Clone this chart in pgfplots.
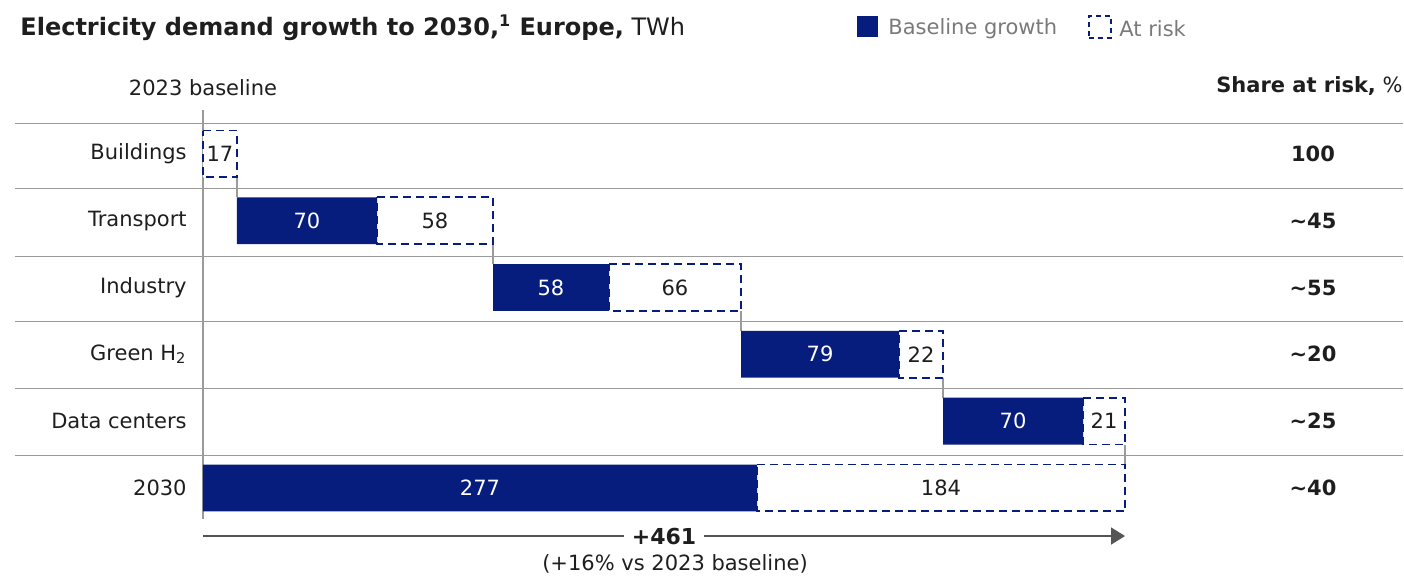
\documentclass[border=0pt]{standalone}
\usepackage{fontspec}
\setmainfont{DejaVu Sans}
\usepackage{pgfplots}
\pgfplotsset{compat=1.18}
\usetikzlibrary{arrows.meta}

\definecolor{navy}{HTML}{061D7E}
\definecolor{sepgray}{HTML}{9A9A9A}
\definecolor{txt}{HTML}{1E1E1E}
\definecolor{leggray}{HTML}{7A7A7A}
\definecolor{arrowgray}{HTML}{555555}

% both axes share the same box so that they line up
\pgfplotsset{commonaxis/.style={
    scale only axis, width=600pt, height=212.1pt,
    at={(101.5pt,23.5pt)}, anchor=south west,
    xmin=0, xmax=600, ymin=-0.75, ymax=5.6, y dir=reverse,
    clip=false}}

\begin{document}
\begin{tikzpicture}[font=\fontsize{10.5}{12}\selectfont, text=txt]
\path[use as bounding box] (0,0) rectangle (702pt,287.5pt);

% lines: separators, base line, connectors, total arrow
\begin{axis}[commonaxis, hide axis]
    \addplot[sepgray, line width=0.6pt] coordinates {(-94,-0.45) (600,-0.45)};
    \addplot[sepgray, line width=0.6pt] coordinates {(-94,0.52) (600,0.52)};
    \addplot[sepgray, line width=0.6pt] coordinates {(-94,1.53) (600,1.53)};
    \addplot[sepgray, line width=0.6pt] coordinates {(-94,2.51) (600,2.51)};
    \addplot[sepgray, line width=0.6pt] coordinates {(-94,3.51) (600,3.51)};
    \addplot[sepgray, line width=0.6pt] coordinates {(-94,4.51) (600,4.51)};
    \addplot[sepgray, line width=0.6pt] coordinates {(0,-0.66) (0,5.46)};
    % connectors between steps
    \addplot[sepgray, line width=0.6pt] coordinates {(17,0.35) (17,0.65)};
    \addplot[sepgray, line width=0.6pt] coordinates {(145,1.35) (145,1.65)};
    \addplot[sepgray, line width=0.6pt] coordinates {(269,2.35) (269,2.65)};
    \addplot[sepgray, line width=0.6pt] coordinates {(370,3.35) (370,3.65)};
    \addplot[sepgray, line width=0.6pt] coordinates {(461,4.35) (461,4.65)};
    % total arrow
    \addplot[arrowgray, line width=0.8pt, -{Triangle[length=7pt,width=8.5pt]}] coordinates {(0,5.72) (461,5.72)};
\end{axis}

% bars
\begin{axis}[commonaxis,
    xbar stacked, bar width=0.7,
    axis line style={draw=none}, tick style={draw=none},
    major tick length=0pt,
    xtick=\empty, ytick={0,1,2,3,4,5},
    yticklabels={Buildings,Transport,Industry,Green H\textsubscript{2},Data centers,2030},
    yticklabel style={inner sep=0pt, xshift=-8pt, text=txt},
    nodes near coords style={anchor=center, inner sep=0pt},
]
    % invisible offset of each step
    \addplot[draw=none, fill=none] coordinates {
        (0,0) (17,1) (145,2) (269,3) (370,4) (0,5)};
    % baseline growth
    \addplot[fill=navy, draw=none, nodes near coords, point meta=explicit symbolic,
        every node near coord/.append style={text=white}] coordinates {
        (0,0)[] (70,1)[70] (58,2)[58] (79,3)[79] (70,4)[70] (277,5)[277]};
    % at risk
    \addplot[fill=white, draw=navy, line width=0.9pt, dash pattern=on 4pt off 2.5pt,
        nodes near coords, point meta=explicit symbolic,
        every node near coord/.append style={text=txt}] coordinates {
        (17,0)[17] (58,1)[58] (66,2)[66] (22,3)[22] (21,4)[21] (184,5)[184]};

    % texts
    \node[anchor=base west, inner sep=0pt, font=\fontsize{12}{14}\selectfont]
        at (axis cs:-91.5,-1.78)
        {\textbf{Electricity demand growth to 2030,\textsuperscript{1} Europe,} TWh};
    \node[fill=navy, minimum size=10.5pt, inner sep=0pt, anchor=west] at (axis cs:327,-1.9) {};
    \node[anchor=west, inner sep=0pt, text=leggray] at (axis cs:342.5,-1.88) {Baseline growth};
    \node[draw=navy, line width=0.9pt, dash pattern=on 2.5pt off 2pt, minimum size=11pt,
        inner sep=0pt, anchor=west] at (axis cs:442.5,-1.9) {};
    \node[anchor=west, inner sep=0pt, text=leggray] at (axis cs:458,-1.88) {At risk};

    \node[inner sep=0pt] at (axis cs:0,-0.99) {2023 baseline};
    \node[anchor=east, inner sep=0pt] at (axis cs:600,-1.02) {\textbf{Share at risk,} \%};
    \node[font=\fontsize{10.5}{12}\selectfont\bfseries] at (axis cs:555,0) {100};
    \node[font=\fontsize{10.5}{12}\selectfont\bfseries] at (axis cs:555,1) {\textasciitilde45};
    \node[font=\fontsize{10.5}{12}\selectfont\bfseries] at (axis cs:555,2) {\textasciitilde55};
    \node[font=\fontsize{10.5}{12}\selectfont\bfseries] at (axis cs:555,3) {\textasciitilde20};
    \node[font=\fontsize{10.5}{12}\selectfont\bfseries] at (axis cs:555,4) {\textasciitilde25};
    \node[font=\fontsize{10.5}{12}\selectfont\bfseries] at (axis cs:555,5) {\textasciitilde40};

    \node[fill=white, inner xsep=4pt, inner ysep=1pt, font=\fontsize{11}{13}\selectfont\bfseries]
        at (axis cs:230.5,5.72) {+461};
    \node[inner sep=0pt] at (axis cs:236,6.14) {(+16\% vs 2023 baseline)};
\end{axis}
\end{tikzpicture}
\end{document}
